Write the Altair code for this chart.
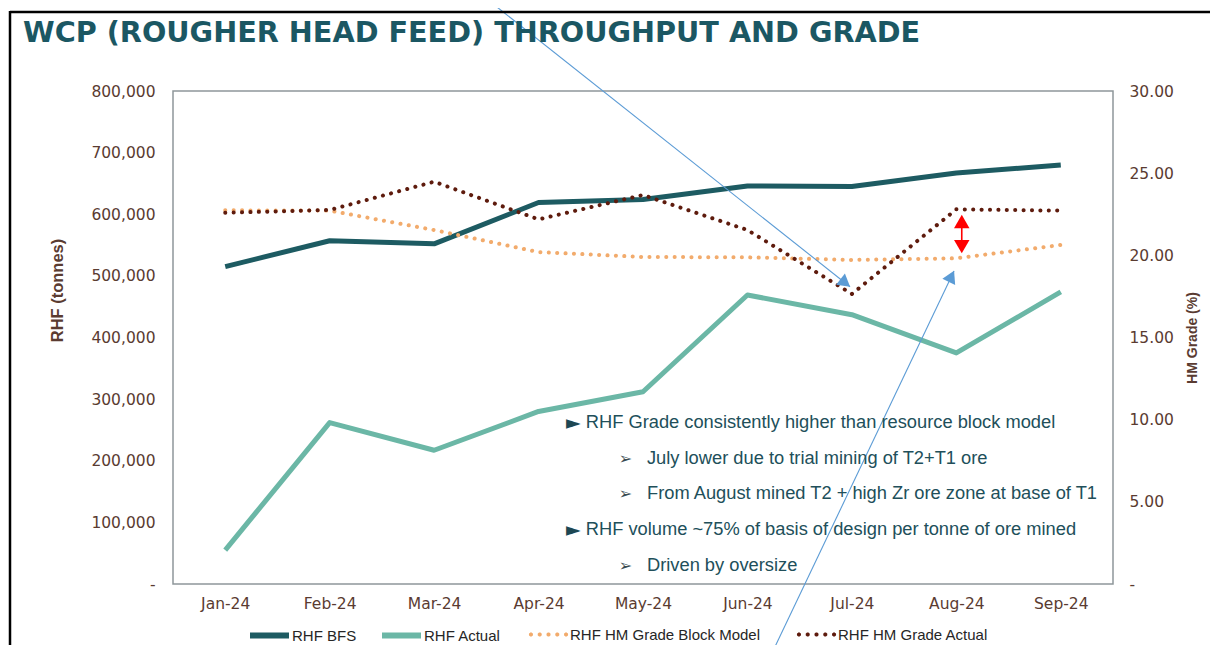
import altair as alt
import pandas as pd

# ---------------- chart values ----------------
MONTHS = ["Jan-24", "Feb-24", "Mar-24", "Apr-24", "May-24", "Jun-24", "Jul-24", "Aug-24", "Sep-24"]
RHF_BFS = [515000, 557000, 552000, 619000, 624000, 646000, 645000, 667000, 680000]
RHF_ACTUAL = [55000, 262000, 217000, 280000, 312000, 469000, 437000, 375000, 474000]
GRADE_BLOCK_MODEL = [22.74, 22.72, 21.54, 20.20, 19.90, 19.88, 19.72, 19.82, 20.63]
GRADE_ACTUAL = [22.59, 22.76, 24.48, 22.19, 23.67, 21.54, 17.65, 22.80, 22.72]

SERIES = ["RHF BFS", "RHF Actual", "RHF HM Grade Block Model", "RHF HM Grade Actual"]
TONNE_TICKS = [0, 100000, 200000, 300000, 400000, 500000, 600000, 700000, 800000]
GRADE_TICKS = [0, 5, 10, 15, 20, 25, 30]

TITLE = "WCP (ROUGHER HEAD FEED) THROUGHPUT AND GRADE"
LEFT_TITLE = "RHF (tonnes)"
RIGHT_TITLE = "HM Grade (%)"

# ---------------- annotations (x: month index, y: HM grade %) ----------------
NOTE_TEXT = [
    "RHF Grade consistently higher than resource block model",
    "July lower due to trial mining of T2+T1 ore",
    "From August mined T2 + high Zr ore zone at base of T1",
    "RHF volume ~75% of basis of design per tonne of ore mined",
    "Driven by oversize",
]
NOTE_LEVEL = [0, 1, 1, 0, 1]
NOTE_GRADE = [9.82, 7.61, 5.48, 3.29, 1.11]
NOTE_TEXT_X = [3.452, 4.038]
NOTE_BULLET_X = [3.263, 3.767]
NOTE_BULLET = ["\u25BA", "\u27A2"]

BLUE_LINE_ID = [1, 1, 2, 2]
BLUE_LINE_X = [2.516, 5.982, 5.235, 6.978]
BLUE_LINE_G = [35.54, 18.09, -4.20, 19.05]
BLUE_HEAD_X = [5.937, 6.953]
BLUE_HEAD_G = [18.32, 18.72]
BLUE_HEAD_ANGLE = [38.4, 295.5]

RED_X = [7.052]
RED_TOP = [22.06]
RED_BOTTOM = [20.53]

# ---------------- styling ----------------
BROWN = "#5a3b31"
TEAL_TEXT = "#214f5a"
SERIES_COLORS = ["#1d5b62", "#6bb7a6", "#f2ab6c", "#5e1b0d"]
LEGEND_X = [74, 206, 354, 622]   # legend entry offsets from plot's left edge (px)
BLUE = "#5b9bd5"


def _dot(c):
    # a small round-ish dot made of four crossing strokes, in unit-square coords
    h, d = 0.051, 0.036
    return (f"M{c - h:.3f},0h{2 * h:.3f}"
            f"M{c:.3f},{-h:.3f}v{2 * h:.3f}"
            f"M{c - d:.3f},{-d:.3f}l{2 * d:.3f},{2 * d:.3f}"
            f"M{c - d:.3f},{d:.3f}l{2 * d:.3f},{-2 * d:.3f}")


DOT_SYMBOL = "".join(_dot(c) for c in (-0.9, -0.45, 0.0, 0.45, 0.9))

n = len(MONTHS)
series_values = [RHF_BFS, RHF_ACTUAL, GRADE_BLOCK_MODEL, GRADE_ACTUAL]
series_dfs = [
    pd.DataFrame({"m": list(range(n)), "month": MONTHS, "series": [s] * n, "value": v})
    for s, v in zip(SERIES, series_values)
]
notes_df = pd.DataFrame({
    "text": NOTE_TEXT,
    "x": [NOTE_TEXT_X[l] for l in NOTE_LEVEL],
    "g": NOTE_GRADE,
    "level": NOTE_LEVEL,
})
bullets_df = pd.DataFrame({
    "bullet": [NOTE_BULLET[l] for l in NOTE_LEVEL],
    "x": [NOTE_BULLET_X[l] for l in NOTE_LEVEL],
    "g": NOTE_GRADE,
    "level": NOTE_LEVEL,
})
blue_lines_df = pd.DataFrame({"id": BLUE_LINE_ID, "x": BLUE_LINE_X, "g": BLUE_LINE_G})
blue_heads_df = pd.DataFrame({"x": BLUE_HEAD_X, "g": BLUE_HEAD_G, "angle": BLUE_HEAD_ANGLE})
red_df = pd.DataFrame({"x": RED_X, "g1": RED_TOP, "g2": RED_BOTTOM})

# month-name label expression built from MONTHS (nested ternary)
month_expr = "''"
for i in reversed(range(n)):
    month_expr = f"datum.value == {i} ? '{MONTHS[i]}' : ({month_expr})"


def xs():
    return alt.Scale(domain=[-0.5, n - 0.5], nice=False, zero=False)


def gs():
    return alt.Scale(domain=[0, 30], nice=False, zero=False)


def ts():
    return alt.Scale(domain=[0, 800000], nice=False, zero=False)


def x_axis():
    return alt.Axis(
        orient="bottom",
        values=list(range(n)),
        labelExpr=month_expr,
        title=None, labelFont="DejaVu Sans", labelFontSize=15.5, labelColor=BROWN,
        labelPadding=12, labelAngle=0, labelFlush=False,
        ticks=False, domain=False, grid=False,
    )


def right_axis():
    return alt.Axis(
        orient="right", values=GRADE_TICKS,
        labelExpr="datum.value === 0 ? '-' : format(datum.value, '.2f')",
        labelFont="DejaVu Sans", labelFontSize=15.5, labelColor=BROWN, labelPadding=16,
        title=RIGHT_TITLE, titleFont="Liberation Sans", titleFontSize=14, titleFontWeight="bold",
        titleColor=BROWN, titleAngle=270, titleX=79, titleY=246.5,
        titleAlign="center", titleBaseline="middle",
        ticks=False, domain=False, grid=False,
    )


def left_axis():
    return alt.Axis(
        orient="left", values=TONNE_TICKS,
        labelExpr="datum.value === 0 ? '-' : format(datum.value, ',')",
        labelFont="DejaVu Sans", labelFontSize=15.5, labelColor=BROWN, labelPadding=18,
        title=LEFT_TITLE, titleFont="Liberation Sans", titleFontSize=16.5, titleFontWeight="bold",
        titleColor=BROWN, titleAngle=270, titleX=-116, titleY=199,
        titleAlign="center", titleBaseline="middle",
        ticks=False, domain=False, grid=False,
    )


def X(field):
    return alt.X(field, scale=xs(), axis=x_axis())


def G(field):
    return alt.Y(field, scale=gs(), axis=right_axis())


def T(field):
    return alt.Y(field, scale=ts(), axis=left_axis())


def series_color(i, symbol, stroke_w):
    return alt.Color(
        "series:N",
        scale=alt.Scale(domain=[SERIES[i]], range=[SERIES_COLORS[i]]),
        legend=alt.Legend(
            orient="none", legendX=LEGEND_X[i], legendY=522, direction="horizontal", title=None,
            symbolType=symbol, symbolSize=1521, symbolStrokeWidth=stroke_w,
            labelFont="Liberation Sans", labelFontSize=15, labelColor="#262626",
            labelLimit=300, labelOffset=0, padding=0,
        ),
    )


def solid_line(i):
    return alt.Chart(series_dfs[i]).mark_line(strokeWidth=5, strokeJoin="round").encode(
        x=X("m:Q"), y=T("value:Q"), color=series_color(i, "stroke", 6), order="m:Q",
    )


def dotted_line(i):
    return alt.Chart(series_dfs[i]).mark_line(
        strokeWidth=4, strokeCap="round", strokeDash=[0.1, 8.3]
    ).encode(
        x=X("m:Q"), y=G("value:Q"), color=series_color(i, DOT_SYMBOL, 4), order="m:Q",
    )


tonne_layer = alt.layer(solid_line(0), solid_line(1)).resolve_scale(color="independent")

blue_lines = alt.Chart(blue_lines_df).mark_line(color=BLUE, strokeWidth=1.1).encode(
    x=X("x:Q"), y=G("g:Q"), detail="id:N",
)
blue_heads = alt.Chart(blue_heads_df).mark_point(
    shape="triangle-right", filled=True, color=BLUE, size=200, opacity=1
).encode(
    x=X("x:Q"), y=G("g:Q"), angle=alt.Angle("angle:Q", scale=None),
)
red_shaft = alt.Chart(red_df).mark_rule(color="#ff0000", strokeWidth=1.6).encode(
    x=X("x:Q"), y=G("g1:Q"), y2="g2:Q",
)
red_up = alt.Chart(red_df).mark_point(
    shape="triangle-up", filled=True, color="#ff0000", size=240, opacity=1
).encode(x=X("x:Q"), y=G("g1:Q"))
red_down = alt.Chart(red_df).mark_point(
    shape="triangle-down", filled=True, color="#ff0000", size=240, opacity=1
).encode(x=X("x:Q"), y=G("g2:Q"))
notes = alt.Chart(notes_df).mark_text(
    align="left", baseline="middle", font="Liberation Sans", fontSize=18.3, color=TEAL_TEXT
).encode(x=X("x:Q"), y=G("g:Q"), text="text:N")
main_bullets = alt.Chart(bullets_df).transform_filter("datum.level == 0").mark_text(
    align="left", baseline="middle", font="DejaVu Sans", fontSize=19, color="#1d4753"
).encode(x=X("x:Q"), y=G("g:Q"), text="bullet:N")
sub_bullets = alt.Chart(bullets_df).transform_filter("datum.level == 1").mark_text(
    align="left", baseline="middle", font="DejaVu Sans", fontSize=16, color="#3a4a50"
).encode(x=X("x:Q"), y=G("g:Q"), text="bullet:N")

grade_layer = alt.layer(
    dotted_line(2), dotted_line(3), blue_lines, blue_heads, red_shaft, red_up, red_down,
    notes, main_bullets, sub_bullets,
).resolve_scale(color="independent")

frame_top = alt.Chart(pd.DataFrame({"k": [0]})).mark_rule(color="black", strokeWidth=2.5).encode(
    x=alt.value(-163), x2=alt.value(1040), y=alt.value(-79)
)
frame_left = alt.Chart(pd.DataFrame({"k": [0]})).mark_rule(color="black", strokeWidth=2.5).encode(
    x=alt.value(-163), y=alt.value(-80), y2=alt.value(570)
)

chart = alt.layer(tonne_layer, grade_layer, frame_top, frame_left).resolve_scale(
    y="independent", color="independent"
).properties(
    width=940, height=493,
    padding={"left": 165, "top": 83, "right": 97, "bottom": 61},
    autosize=alt.AutoSizeParams(type="none"),
    title=alt.Title(
        TITLE, anchor="start", frame="group", dx=-150, dy=72.5, offset=0,
        font="DejaVu Sans", fontSize=28.7, fontWeight="bold", color="#1b5763",
        baseline="alphabetic",
    ),
).configure_view(stroke="#8e979a", strokeWidth=1.5)

chart.save("out.html", embed_options={"renderer": "svg", "actions": False})
